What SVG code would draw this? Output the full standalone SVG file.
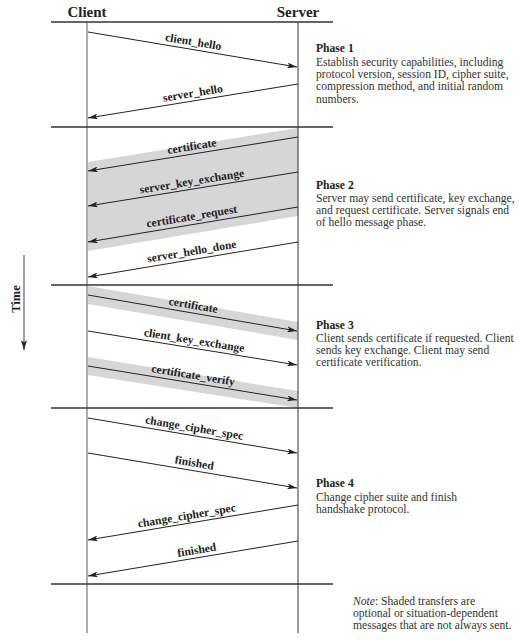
<svg xmlns="http://www.w3.org/2000/svg" width="519" height="640" viewBox="0 0 519 640">
<style>
.hdr{font-family:"Liberation Serif",serif;font-weight:bold;font-size:15px;fill:#222;text-anchor:middle}
.lbl{font-family:"Liberation Serif",serif;font-weight:bold;font-size:11.6px;fill:#222;text-anchor:middle}
.ph{font-family:"Liberation Serif",serif;font-weight:bold;font-size:11.6px;fill:#222}
.txt{font-family:"Liberation Serif",serif;font-size:11.6px;fill:#333}
.hl{stroke:#333;stroke-width:1.6;fill:none}
.msg{stroke:#222;stroke-width:1;fill:none;marker-end:url(#ah)}
.band{fill:#d6d6d6;stroke:none}
</style>
<defs>
<marker id="ah" viewBox="0 0 10 6" refX="10" refY="3" markerWidth="10" markerHeight="6" markerUnits="userSpaceOnUse" orient="auto">
<path d="M0,0 L10,3 L0,6 L2.5,3 z" fill="#222"/>
</marker>
</defs>
<rect width="519" height="640" fill="#fff"/>

<g id="bands">
<polygon class="band" points="88,162 298,128 298,216 88,251"/>
<polygon class="band" points="88,286 298,322 298,340 88,304"/>
<polygon class="band" points="88,357 298,391 298,408 88,375"/>
</g>

<g id="client">
<text class="hdr" x="87" y="17">Client</text>
<line x1="87" y1="22" x2="87" y2="633" stroke="#999" stroke-width="1.6"/>
</g>
<g id="server">
<text class="hdr" x="298" y="17">Server</text>
<line x1="298" y1="22" x2="298" y2="633" stroke="#444" stroke-width="1.1"/>
</g>

<g id="phase-lines">
<line class="hl" x1="51" y1="22" x2="333" y2="22"/>
<line class="hl" x1="51" y1="127" x2="333" y2="127"/>
<line class="hl" x1="51" y1="285" x2="333" y2="285"/>
<line class="hl" x1="51" y1="408" x2="333" y2="408"/>
<line class="hl" x1="51" y1="584" x2="333" y2="584"/>
</g>

<g id="time">
<line x1="24" y1="255" x2="24" y2="350" stroke="#777" stroke-width="1.4" marker-end="url(#ah)"/>
<text class="hdr" style="font-size:12.5px" transform="translate(20,299) rotate(-90)">Time</text>
</g>

<g id="connectors">
<line class="msg" x1="88" y1="32" x2="297" y2="67"/>
<line class="msg" x1="298" y1="84" x2="88" y2="118"/>
<line class="msg" x1="298" y1="137" x2="88" y2="171"/>
<line class="msg" x1="298" y1="172" x2="88" y2="206"/>
<line class="msg" x1="298" y1="207" x2="88" y2="242"/>
<line class="msg" x1="298" y1="242" x2="88" y2="277"/>
<line class="msg" x1="88" y1="295" x2="297" y2="331"/>
<line class="msg" x1="88" y1="331" x2="297" y2="365"/>
<line class="msg" x1="88" y1="366" x2="297" y2="400"/>
<line class="msg" x1="88" y1="418" x2="297" y2="453"/>
<line class="msg" x1="88" y1="453" x2="297" y2="488"/>
<line class="msg" x1="298" y1="505" x2="88" y2="540"/>
<line class="msg" x1="298" y1="541" x2="88" y2="576"/>
</g>

<g id="labels">
<text class="lbl" transform="translate(192,49.4) rotate(9.5)" y="-4">client_hello</text>
<text class="lbl" transform="translate(194,100.8) rotate(-9.2)" y="-4">server_hello</text>
<text class="lbl" transform="translate(193,154) rotate(-9.2)" y="-4">certificate</text>
<text class="lbl" transform="translate(193,189) rotate(-9.2)" y="-4">server_key_exchange</text>
<text class="lbl" transform="translate(193,224) rotate(-9.4)" y="-4">certificate_request</text>
<text class="lbl" transform="translate(193,259) rotate(-9.4)" y="-4">server_hello_done</text>
<text class="lbl" transform="translate(192,312.8) rotate(9.7)" y="-4">certificate</text>
<text class="lbl" transform="translate(193,348) rotate(9.2)" y="-4">client_key_exchange</text>
<text class="lbl" transform="translate(192,382.8) rotate(9.2)" y="-4">certificate_verify</text>
<text class="lbl" transform="translate(193,435.5) rotate(9.5)" y="-4">change_cipher_spec</text>
<text class="lbl" transform="translate(193,470.5) rotate(9.5)" y="-4">finished</text>
<text class="lbl" transform="translate(188,523.3) rotate(-9.5)" y="-4">change_cipher_spec</text>
<text class="lbl" transform="translate(198,557.7) rotate(-9.5)" y="-4">finished</text>
</g>

<g id="phase1">
<text class="ph" x="316" y="52">Phase 1</text>
<text class="txt" x="316" y="66">Establish security capabilities, including</text>
<text class="txt" x="316" y="78.2">protocol version, session ID, cipher suite,</text>
<text class="txt" x="316" y="90.4">compression method, and initial random</text>
<text class="txt" x="316" y="102.6">numbers.</text>
</g>
<g id="phase2">
<text class="ph" x="316" y="189.3">Phase 2</text>
<text class="txt" x="316" y="202.3">Server may send certificate, key exchange,</text>
<text class="txt" x="316" y="214.2">and request certificate. Server signals end</text>
<text class="txt" x="316" y="226.1">of hello message phase.</text>
</g>
<g id="phase3">
<text class="ph" x="316" y="329.3">Phase 3</text>
<text class="txt" x="316" y="342.2">Client sends certificate if requested. Client</text>
<text class="txt" x="316" y="354">sends key exchange. Client may send</text>
<text class="txt" x="316" y="365.8">certificate verification.</text>
</g>
<g id="phase4">
<text class="ph" x="316" y="486.7">Phase 4</text>
<text class="txt" x="316" y="500.7">Change cipher suite and finish</text>
<text class="txt" x="316" y="512.5">handshake protocol.</text>
</g>
<g id="note">
<text class="txt" x="353" y="605"><tspan font-style="italic">Note</tspan>: Shaded transfers are</text>
<text class="txt" x="353" y="616.8">optional or situation-dependent</text>
<text class="txt" x="353" y="628.6">messages that are not always sent.</text>
</g>
</svg>
